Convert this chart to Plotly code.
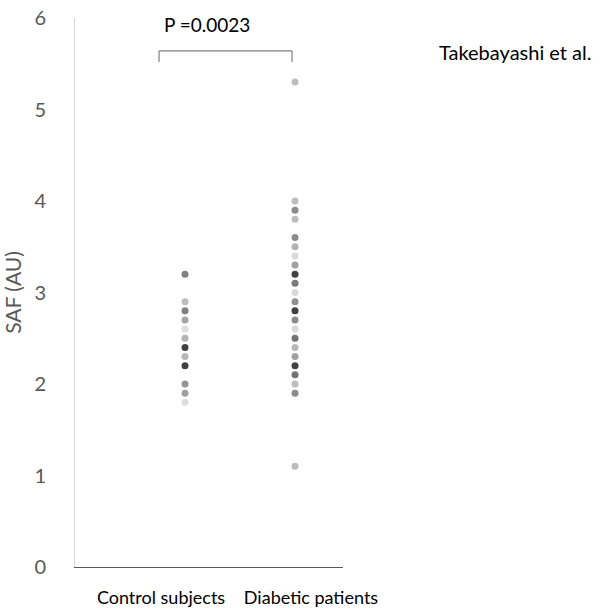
import plotly.graph_objects as go

categories = ["Control subjects", "Diabetic patients"]

control_values = [3.2, 2.9, 2.8, 2.7, 2.6, 2.5, 2.4, 2.3, 2.2, 2.0, 1.9, 1.8]
control_colors = ["#7f7f7f", "#bdbdbd", "#808080", "#a6a6a6", "#dedede", "#b3b3b3",
                  "#404040", "#b8b8b8", "#404040", "#969696", "#a0a0a0", "#dedede"]

diabetic_values = [5.3, 4.0, 3.9, 3.8, 3.6, 3.5, 3.4, 3.3, 3.2, 3.1, 3.0, 2.9,
                   2.8, 2.7, 2.6, 2.5, 2.4, 2.3, 2.2, 2.1, 2.0, 1.9, 1.1]
diabetic_colors = ["#bdbdbd", "#bdbdbd", "#8c8c8c", "#bdbdbd", "#8c8c8c", "#b3b3b3",
                   "#d9d9d9", "#a0a0a0", "#404040", "#7a7a7a", "#d9d9d9", "#909090",
                   "#404040", "#8c8c8c", "#d9d9d9", "#737373", "#b8b8b8", "#a0a0a0",
                   "#404040", "#737373", "#bdbdbd", "#8c8c8c", "#bdbdbd"]

y_ticks = [0, 1, 2, 3, 4, 5, 6]
p_text = "P =0.0023"
credit = "Takebayashi et al."

FONT = "Lato"

fig = go.Figure()
fig.add_trace(go.Scatter(
    x=[0] * len(control_values), y=control_values, mode="markers",
    marker=dict(size=7, color=control_colors, line=dict(width=0)),
    name=categories[0], showlegend=False, hoverinfo="y"))
fig.add_trace(go.Scatter(
    x=[1] * len(diabetic_values), y=diabetic_values, mode="markers",
    marker=dict(size=7, color=diabetic_colors, line=dict(width=0)),
    name=categories[1], showlegend=False, hoverinfo="y"))

# significance bracket
bx0, bx1, btop, bbot = -0.236, 0.973, 5.64, 5.52
for (xa, xb, ya, yb) in [(bx0, bx1, btop, btop), (bx0, bx0, btop, bbot), (bx1, bx1, btop, bbot)]:
    fig.add_shape(type="line", x0=xa, x1=xb, y0=ya, y1=yb,
                  line=dict(color="#7f7f7f", width=1.2))

fig.add_annotation(x=0.2, y=5.93, xref="x", yref="y", text=p_text, showarrow=False,
                   font=dict(family=FONT, size=19, color="#000000"), yanchor="middle")
fig.add_annotation(x=(437 - 75) / 268.0, y=(567 - 52) / 549.0, xref="paper", yref="paper",
                   text=credit, showarrow=False, xanchor="left", yanchor="middle",
                   font=dict(family=FONT, size=20, color="#000000"))

fig.update_layout(
    width=611, height=610,
    margin=dict(l=75, r=268, t=18, b=43),
    paper_bgcolor="white", plot_bgcolor="white",
    font=dict(family=FONT),
    xaxis=dict(range=[-1.0, 1.436], showgrid=False, zeroline=False, automargin=False,
               showline=True, linecolor="#595959", linewidth=1,
               tickmode="array", tickvals=[-0.218, 1.145], ticktext=categories,
               ticks="", tickfont=dict(family=FONT, size=18, color="#000000"),
               ticklabelstandoff=14),
    yaxis=dict(range=[0, 6], showgrid=False, zeroline=False, automargin=False,
               showline=True, linecolor="#d9d9d9", linewidth=1,
               tickmode="array", tickvals=y_ticks, ticks="",
               tickfont=dict(family=FONT, size=20, color="#595959"),
               ticklabelstandoff=24,
               title=dict(text="SAF (AU)", font=dict(family=FONT, size=21, color="#595959"),
                          standoff=8)),
)

fig.write_html("out.html", config={"displayModeBar": False},
               post_script="document.body.style.margin='0';")
